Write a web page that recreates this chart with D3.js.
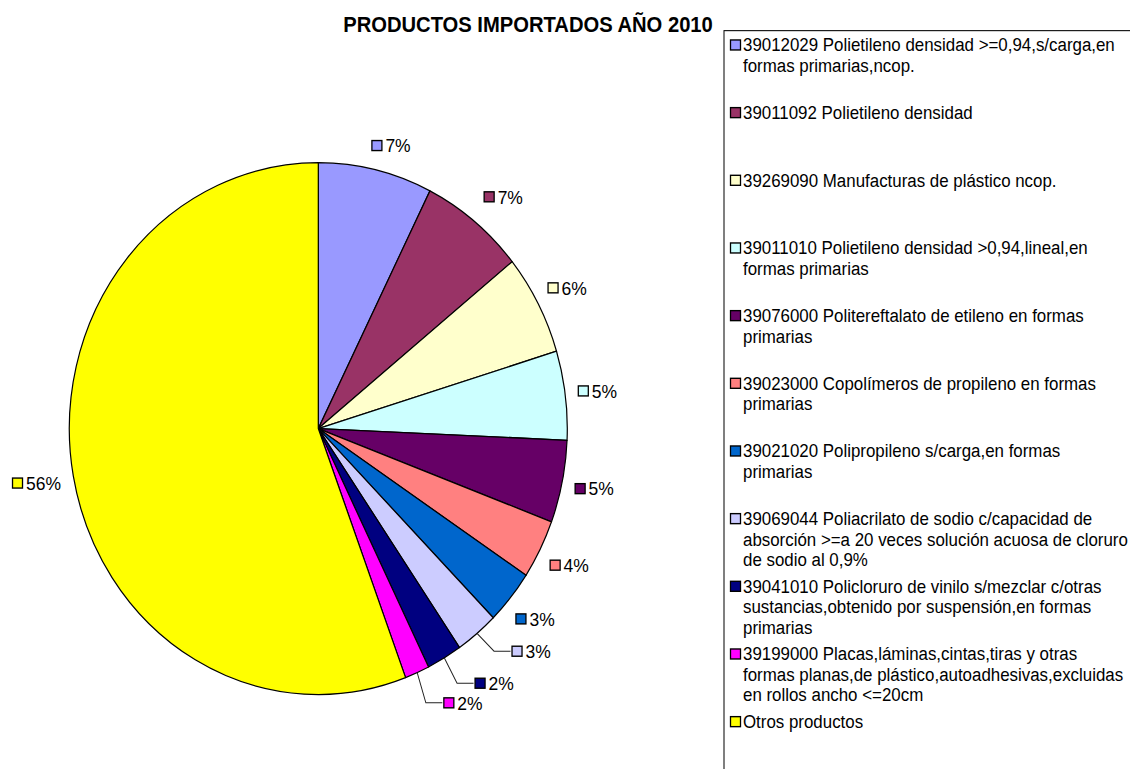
<!DOCTYPE html>
<html>
<head>
<meta charset="utf-8">
<script src="https://cdn.jsdelivr.net/npm/d3@7"></script>
<style>
  body { margin: 0; background: #fff; }
  text { font-family: "Liberation Sans", Arial, sans-serif; fill: #000; }
</style>
</head>
<body>
<script>
// data
const products = [
  "39012029", "39011092", "39269090", "39011010", "39076000", "39023000",
  "39021020", "39069044", "39041010", "39199000", "Otros"
];

const legendLines = [
  ["39012029 Polietileno densidad >=0,94,s/carga,en", "formas primarias,ncop."],
  ["39011092 Polietileno densidad"],
  ["39269090 Manufacturas de plástico ncop."],
  ["39011010 Polietileno densidad >0,94,lineal,en", "formas primarias"],
  ["39076000 Politereftalato de etileno en formas", "primarias"],
  ["39023000 Copolímeros de propileno en formas", "primarias"],
  ["39021020 Polipropileno s/carga,en formas", "primarias"],
  ["39069044 Poliacrilato de sodio c/capacidad de", "absorción >=a 20 veces solución acuosa de cloruro", "de sodio al 0,9%"],
  ["39041010 Policloruro de vinilo s/mezclar c/otras", "sustancias,obtenido por suspensión,en formas", "primarias"],
  ["39199000 Placas,láminas,cintas,tiras y otras", "formas planas,de plástico,autoadhesivas,excluidas", "en rollos ancho <=20cm"],
  ["Otros productos"]
];

// share of imports, percent
const shares = [7.4, 6.8, 6.1, 5.4, 5.0, 3.6, 3.3, 2.8, 2.3, 1.6, 55.7];

const sliceColors = [
  "#9999FF", "#993366", "#FFFFCC", "#CCFFFF", "#660066", "#FF8080",
  "#0066CC", "#CCCCFF", "#000080", "#FF00FF", "#FFFF00"
];

// layout
const width = 1130;
const height = 769;
const stretch = 1.068; // picture is slightly taller than wide
const cx = 318.3;
const cy = 401.3;
const radius = 249;

const svg = d3.select("body").append("svg")
  .attr("width", width)
  .attr("height", height);

const g = svg.append("g").attr("transform", `scale(1,${stretch})`);

// title
g.append("text")
  .attr("x", 528)
  .attr("y", 29.7)
  .attr("text-anchor", "middle")
  .style("font-size", "20.2px")
  .style("font-weight", "bold")
  .text("PRODUCTOS IMPORTADOS AÑO 2010");

// pie
const color = d3.scaleOrdinal().domain(products).range(sliceColors);
const total = d3.sum(shares);
const data = products.map((p, i) => ({ name: p, value: shares[i] }));
const arcs = d3.pie().value((d) => d.value).sort(null)(data);
const arc = d3.arc().innerRadius(0).outerRadius(radius);

const pieG = g.append("g").attr("transform", `translate(${cx},${cy})`);

pieG.selectAll("path")
  .data(arcs)
  .join("path")
  .attr("d", arc)
  .attr("fill", (d) => color(d.data.name))
  .attr("stroke", "#000")
  .attr("stroke-width", 1.2)
  .attr("stroke-linejoin", "round");

// data labels (legend key + percent)
const keySize = 11;
const keyGap = 3;
const boxHalfH = 7;

pieG.selectAll("g.label")
  .data(arcs)
  .join("g")
  .attr("class", "label")
  .each(function (d) {
    const lg = d3.select(this);
    const txt = lg.append("text")
      .attr("x", keySize + keyGap)
      .attr("dy", "0.36em")
      .style("font-size", "17.5px")
      .text(Math.round((d.value / total) * 100) + "%");
    const w = keySize + keyGap + txt.node().getComputedTextLength();
    lg.append("rect")
      .attr("x", 0.5)
      .attr("y", -(keySize - 1) / 2 / stretch)
      .attr("width", keySize - 1)
      .attr("height", (keySize - 1) / stretch)
      .attr("fill", color(d.data.name))
      .attr("stroke", "#000")
      .attr("stroke-width", 1.3);

    const mid = (d.startAngle + d.endAngle) / 2;
    const small = d.value / total < 0.03;
    const ang = small ? mid - (6 * Math.PI) / 180 : mid;
    const sx = Math.sin(ang);
    const sy = -Math.cos(ang);
    const pad = small ? 30 : 12;
    const dist = radius + pad + Math.abs(sx) * (w / 2) + Math.abs(sy) * boxHalfH;
    // labels near the top sit a bit further right in the original
    const nudge = sy < -0.7 ? 10 : 0;
    const bx = sx * dist + nudge;
    const by = sy * dist;
    const left = bx - w / 2;
    lg.attr("transform", `translate(${left},${by})`);

    if (small) {
      const ex = Math.sin(mid) * radius;
      const ey = -Math.cos(mid) * radius;
      pieG.append("polyline")
        .attr("points", `${ex},${ey} ${left - 17.5},${by} ${left - 1},${by}`)
        .attr("fill", "none")
        .attr("stroke", "#222")
        .attr("stroke-width", 1);
    }
  });

// legend
g.append("rect")
  .attr("x", 724)
  .attr("y", 28.7)
  .attr("width", 500)
  .attr("height", 800)
  .attr("fill", "none")
  .attr("stroke", "#000")
  .attr("stroke-width", 1);

const legendY = d3.scalePoint().domain(products).range([42.1, 675.7]);
const lineH = 19.2;

const items = g.selectAll("g.item")
  .data(products)
  .join("g")
  .attr("class", "item")
  .attr("transform", (d) => `translate(730,${legendY(d)})`);

items.append("rect")
  .attr("x", 0.5)
  .attr("y", -5 / stretch)
  .attr("width", 10)
  .attr("height", 10 / stretch)
  .attr("fill", (d) => color(d))
  .attr("stroke", "#000")
  .attr("stroke-width", 1.3);

items.each(function (d, i) {
  d3.select(this)
    .selectAll("text")
    .data(legendLines[i])
    .join("text")
    .attr("x", 13)
    .attr("y", (line, j) => j * lineH)
    .attr("dy", "0.36em")
    .style("font-size", "16.9px")
    .text((line) => line);
});
</script>
</body>
</html>
